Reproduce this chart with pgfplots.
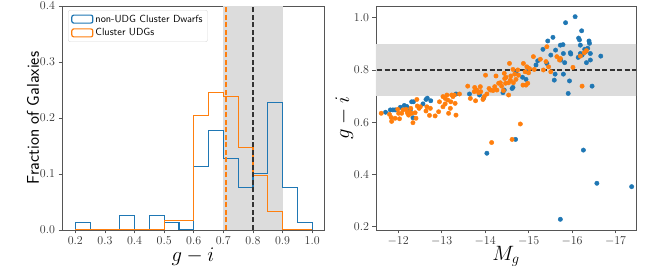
\documentclass[border=0pt]{standalone}
\usepackage{pgfplots}
\pgfplotsset{compat=1.18}
\definecolor{mblue}{HTML}{1F77B4}
\definecolor{morange}{HTML}{FF7F0E}
\definecolor{band}{HTML}{DCDCDC}
\definecolor{spine}{HTML}{555555}
\pgfplotsset{
  myax/.style={
    scale only axis,
    axis line style={spine, line width=0.8pt},
    tick style={spine, line width=0.6pt},
    tick align=outside, major tick length=3.5pt,
    xtick pos=bottom, ytick pos=left,
    tick label style={font=\fontsize{11.5}{13}\selectfont, text=black!80},
    y tick label style={/pgf/number format/.cd, fixed, fixed zerofill, precision=1},
  }
}
\begin{document}
\begin{tikzpicture}
\useasboundingbox (0,0) rectangle (667pt,267pt);
% ---------------- left panel ----------------
\begin{axis}[myax, at={(62pt,37pt)}, anchor=south west,
  width=262pt, height=224pt,
  xmin=0.155, xmax=1.04, ymin=0, ymax=0.4,
  xtick={0.2,0.3,0.4,0.5,0.6,0.7,0.8,0.9,1.0},
  ytick={0,0.1,0.2,0.3,0.4},
  x tick label style={/pgf/number format/.cd, fixed, fixed zerofill, precision=1},
  xlabel={$g-i$},
  xlabel style={font=\fontsize{20}{22}\selectfont, at={(axis description cs:0.5,-0.142)}, anchor=base},
  ylabel={Fraction of Galaxies},
  ylabel style={font=\sffamily\fontsize{17}{20}\selectfont, at={(axis description cs:-0.111,0.5)}, anchor=center},
  legend style={at={(0.023,0.982)}, anchor=north west, draw=black!15, rounded corners=2pt,
    font=\sffamily\fontsize{10.3}{12}\selectfont, row sep=1pt, inner xsep=3pt, inner ysep=2.5pt},
  legend cell align=left,
]
\addplot[fill=band, draw=none, forget plot] coordinates {(0.7,0) (0.7,0.4) (0.9,0.4) (0.9,0)} -- cycle;
\addplot[mblue, line width=1.2pt, const plot mark left,
  legend image code/.code={\draw[mblue,line width=1.2pt] (0pt,-4pt) rectangle (21pt,4pt);}]
  coordinates {
  (0.20,0) (0.20,0.0127) (0.25,0) (0.30,0) (0.35,0.0253) (0.40,0) (0.45,0.0253)
  (0.50,0.0127) (0.55,0) (0.60,0.114) (0.65,0.177) (0.70,0.127) (0.75,0.076)
  (0.80,0.101) (0.85,0.228) (0.90,0.076) (0.95,0.0127) (1.00,0)};
\addlegendentry{non-UDG Cluster Dwarfs}
\addplot[morange, line width=1.2pt, const plot mark left,
  legend image code/.code={\draw[morange,line width=1.2pt] (0pt,-4pt) rectangle (21pt,4pt);}]
  coordinates {
  (0.20,0) (0.20,0) (0.25,0) (0.30,0) (0.35,0) (0.40,0) (0.45,0)
  (0.50,0.0164) (0.55,0.0164) (0.60,0.205) (0.65,0.246) (0.70,0.238) (0.75,0.148)
  (0.80,0.098) (0.85,0.0328) (0.90,0) (0.95,0) (1.00,0)};
\addlegendentry{Cluster UDGs}
\addplot[morange, dash pattern=on 5pt off 2.5pt, line width=1.3pt, forget plot] coordinates {(0.709,0) (0.709,0.4)};
\addplot[black!80, dash pattern=on 5pt off 2.5pt, line width=1.3pt, forget plot] coordinates {(0.8,0) (0.8,0.4)};
\end{axis}
% ---------------- right panel ----------------
\begin{axis}[myax, at={(376pt,37pt)}, anchor=south west,
  width=260pt, height=224pt,
  x dir=reverse,
  xmin=-17.47, xmax=-11.49, ymin=0.187, ymax=1.045,
  xtick={-17,-16,-15,-14,-13,-12},
  ytick={0.2,0.4,0.6,0.8,1.0},
  xlabel={$M_g$},
  xlabel style={font=\fontsize{20}{22}\selectfont, at={(axis description cs:0.5,-0.135)}, anchor=base},
  ylabel={$g-i$},
  ylabel style={font=\fontsize{20}{22}\selectfont, at={(axis description cs:-0.122,0.5)}, anchor=center},
]
\addplot[fill=band, draw=none] coordinates {(-11,0.7) (-11,0.9) (-18,0.9) (-18,0.7)} -- cycle;
\addplot[only marks, mark=*, mark size=2.2pt, color=mblue] table {
x y
-11.71 0.638
-11.82 0.647
-11.88 0.647
-11.93 0.647
-12.05 0.657
-12.14 0.664
-12.20 0.660
-12.31 0.678
-12.35 0.678
-12.34 0.617
-12.28 0.647
-12.57 0.670
-12.64 0.687
-12.67 0.692
-12.75 0.682
-13.33 0.708
-13.64 0.708
-13.87 0.704
-13.96 0.691
-14.04 0.481
-14.41 0.713
-14.44 0.723
-14.62 0.729
-14.64 0.733
-14.71 0.789
-14.70 0.534
-14.86 0.772
-14.94 0.764
-14.96 0.793
-15.17 0.819
-15.21 0.835
-15.33 0.879
-15.42 0.825
-15.44 0.911
-15.51 0.857
-15.56 0.925
-15.59 0.761
-15.61 0.784
-15.62 0.876
-15.73 0.895
-15.74 0.838
-15.73 0.228
-15.79 0.897
-15.80 0.863
-15.83 0.828
-15.85 0.981
-15.80 0.784
-15.91 0.710
-15.94 0.758
-15.96 0.866
-15.97 0.861
-16.07 1.004
-16.14 0.848
-16.15 0.922
-16.17 0.915
-16.19 0.895
-16.19 0.863
-16.22 0.950
-16.23 0.857
-16.26 0.493
-16.29 0.879
-16.31 0.870
-16.33 0.828
-16.36 0.883
-16.39 0.911
-16.40 0.902
-16.42 0.863
-16.42 0.838
-16.46 0.738
-16.57 0.366
-16.66 0.853
-17.37 0.353
};
\addplot[only marks, mark=*, mark size=2.2pt, color=morange] table {
x y
-11.61 0.634
-11.80 0.630
-11.84 0.618
-11.85 0.603
-11.93 0.615
-11.99 0.649
-12.01 0.634
-12.03 0.613
-12.08 0.634
-12.11 0.647
-12.18 0.649
-12.21 0.636
-12.24 0.627
-12.26 0.638
-12.29 0.653
-12.31 0.634
-12.34 0.598
-12.39 0.636
-12.41 0.615
-12.44 0.662
-12.43 0.687
-12.48 0.653
-12.51 0.659
-12.64 0.643
-12.66 0.659
-12.72 0.626
-12.74 0.653
-12.85 0.624
-12.93 0.640
-12.95 0.678
-13.03 0.698
-13.08 0.691
-13.12 0.704
-13.14 0.685
-13.08 0.670
-13.16 0.634
-13.20 0.653
-13.21 0.678
-13.26 0.698
-13.29 0.704
-13.31 0.672
-13.33 0.627
-13.23 0.704
-13.03 0.659
-13.41 0.708
-13.60 0.738
-13.66 0.691
-13.75 0.717
-13.76 0.733
-13.78 0.682
-13.81 0.723
-13.85 0.713
-13.89 0.736
-13.90 0.717
-13.95 0.687
-13.98 0.698
-14.01 0.780
-14.04 0.708
-14.09 0.729
-14.12 0.723
-14.15 0.522
-14.18 0.721
-14.22 0.736
-14.25 0.777
-14.27 0.723
-14.31 0.749
-14.35 0.751
-14.38 0.738
-14.42 0.721
-14.44 0.787
-14.45 0.767
-14.47 0.749
-14.48 0.772
-14.54 0.704
-14.54 0.751
-14.56 0.825
-14.58 0.761
-14.59 0.777
-14.62 0.534
-14.64 0.802
-14.65 0.751
-14.68 0.784
-14.71 0.764
-14.75 0.800
-14.77 0.780
-14.81 0.593
-14.87 0.742
-14.88 0.825
-14.92 0.793
-14.94 0.742
-14.96 0.812
-14.98 0.749
-15.00 0.789
-15.02 0.805
-15.11 0.851
-15.13 0.802
-15.27 0.841
-15.34 0.800
-15.40 0.832
-15.42 0.889
-15.46 0.812
-15.51 0.793
-15.65 0.851
-15.71 0.838
-15.73 0.844
-16.02 0.810
-16.19 0.853
-16.23 0.738
-16.28 0.866
-16.33 0.874
};
\addplot[black!80, dash pattern=on 5pt off 2.5pt, line width=1.3pt] coordinates {(-11,0.8) (-18,0.8)};
\end{axis}
\end{tikzpicture}
\end{document}
